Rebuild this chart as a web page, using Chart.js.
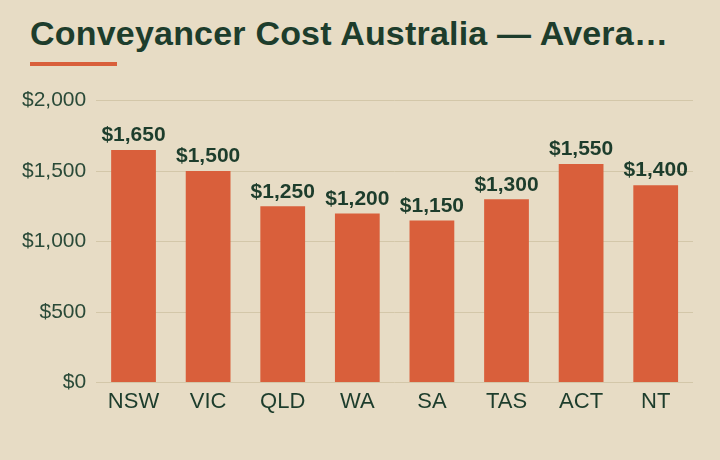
<!DOCTYPE html>
<html>
<head>
<meta charset="utf-8">
<script src="https://cdn.jsdelivr.net/npm/chart.js@4.4.0/dist/chart.umd.min.js"></script>
<style>
  html, body { margin: 0; padding: 0; background: #e7dcc5; }
  body { width: 720px; height: 460px; position: relative; overflow: hidden; font-family: "Liberation Sans", Arial, sans-serif; }
  h1 {
    position: absolute; left: 30px; top: 14px; margin: 0;
    width: 645px; white-space: nowrap; overflow: hidden; text-overflow: ellipsis;
    font-size: 34px; font-weight: bold; color: #1d3d2c; letter-spacing: 0.2px;
  }
  .bar { position: absolute; left: 30px; top: 62px; width: 87px; height: 4px; background: #d95f3b; }
  #wrap { position: absolute; left: 0; top: 78px; width: 720px; height: 382px; }
</style>
</head>
<body>
<h1>Conveyancer Cost Australia — Average Fees by State</h1>
<div class="bar"></div>
<div id="wrap"><canvas id="chart"></canvas></div>
<script>
const states = ['NSW', 'VIC', 'QLD', 'WA', 'SA', 'TAS', 'ACT', 'NT'];
const avgCost = [1650, 1500, 1250, 1200, 1150, 1300, 1550, 1400];

const money = (v) => '$' + v.toLocaleString('en-AU');

// value labels above each bar
const valueLabels = {
  id: 'valueLabels',
  afterDatasetsDraw(chart) {
    const ctx = chart.ctx;
    const meta = chart.getDatasetMeta(0);
    ctx.save();
    ctx.font = 'bold 21px "Liberation Sans", Arial, sans-serif';
    ctx.fillStyle = '#1d3d2c';
    ctx.textAlign = 'center';
    ctx.textBaseline = 'bottom';
    meta.data.forEach((bar, i) => {
      ctx.fillText(money(avgCost[i]), bar.x, bar.y - 4);
    });
    ctx.restore();
  }
};

new Chart(document.getElementById('chart'), {
  type: 'bar',
  data: {
    labels: states,
    datasets: [{
      label: 'Average cost',
      data: avgCost,
      backgroundColor: '#d95f3b',
      categoryPercentage: 1,
      barPercentage: 0.6,
    }],
  },
  options: {
    responsive: true,
    maintainAspectRatio: false,
    animation: false,
    layout: { padding: { left: 12, right: 27, top: 3, bottom: 39 } },
    plugins: {
      legend: { display: false },
      tooltip: { enabled: false },
    },
    scales: {
      x: {
        grid: { display: false, drawTicks: false },
        border: { display: false },
        ticks: { color: '#1d3d2c', font: { size: 22, family: '"Liberation Sans", Arial, sans-serif' }, padding: 6 },
      },
      y: {
        min: 0,
        max: 2000,
        grid: { color: '#d3c7a9', lineWidth: 1, drawTicks: false },
        border: { display: false },
        ticks: {
          stepSize: 500,
          color: '#2a4a38',
          padding: 10,
          font: { size: 21, family: '"Liberation Sans", Arial, sans-serif' },
          callback: (v) => money(v),
        },
      },
    },
  },
  plugins: [valueLabels],
});
</script>
</body>
</html>
